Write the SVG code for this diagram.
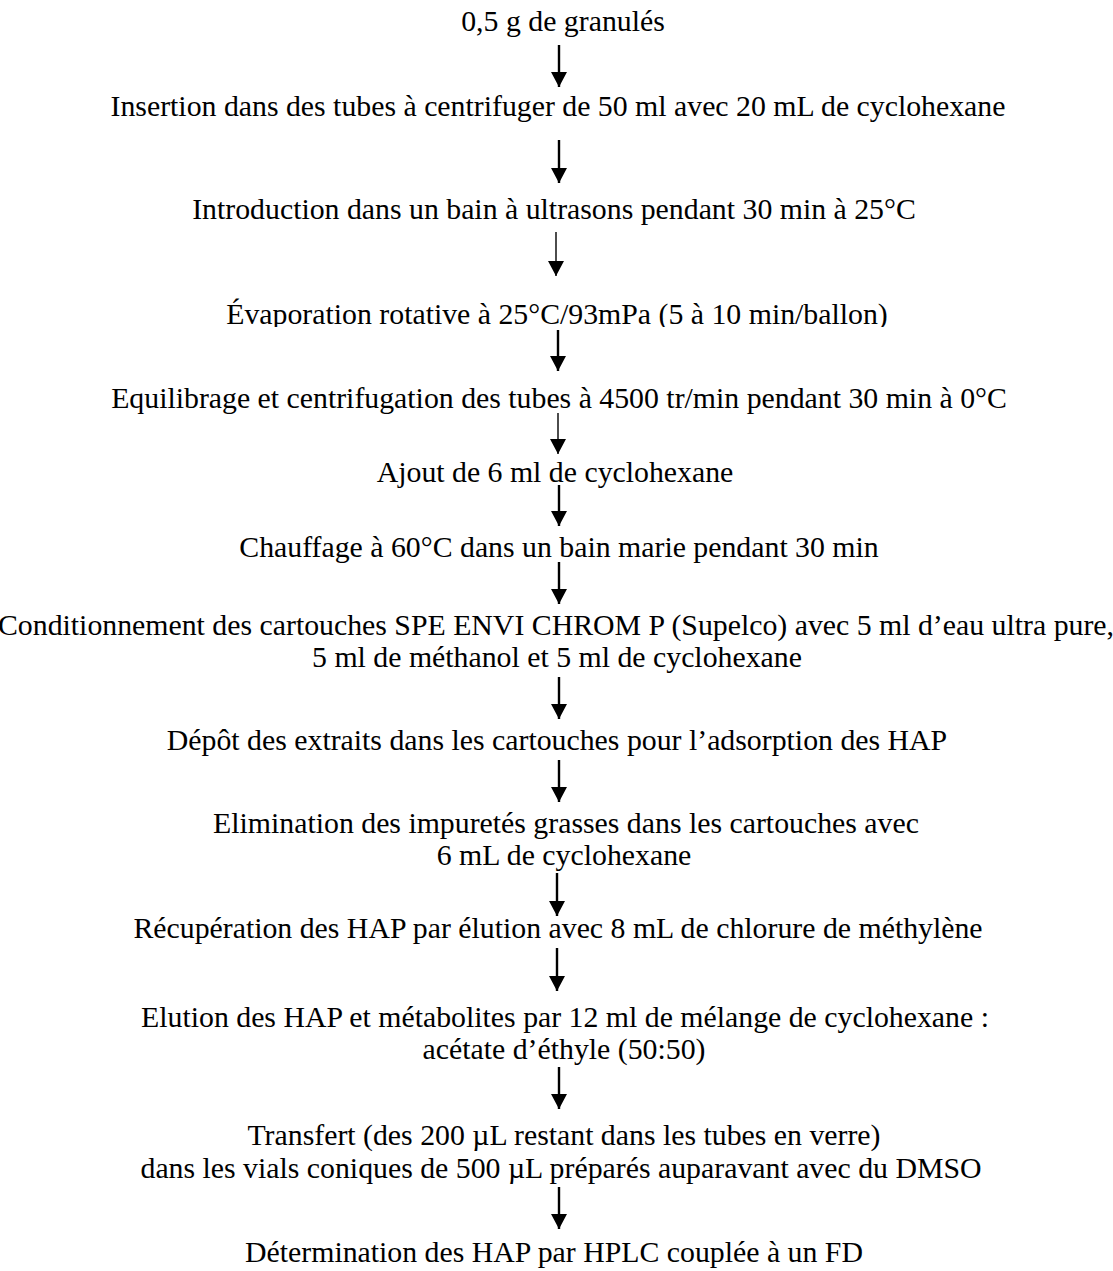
<svg xmlns="http://www.w3.org/2000/svg" width="1113" height="1271" viewBox="0 0 1113 1271">
<style>
text{font-family:"Liberation Serif","Times New Roman",serif;font-size:29.8px;fill:#000;text-anchor:middle}
.a{stroke:#000;stroke-width:2.4;fill:none}
.t{stroke:#000;stroke-width:1.4;fill:none}
</style>
<defs>
<marker id="h" markerUnits="userSpaceOnUse" markerWidth="16" markerHeight="16" viewBox="0 0 16 16" refX="15" refY="8" orient="auto"><path d="M0,0 L15,8 L0,16 Z" fill="#000"/></marker>
<clipPath id="c4"><rect x="0" y="290" width="1113" height="37"/></clipPath>
</defs>
<rect width="1113" height="1271" fill="#fff"/>
<g id="n1"><text x="563" y="31">0,5 g de granulés</text></g>
<g id="n2"><text x="558" y="116">Insertion dans des tubes à centrifuger de 50 ml avec 20 mL de cyclohexane</text></g>
<g id="n3"><text x="554" y="219">Introduction dans un bain à ultrasons pendant 30 min à 25°C</text></g>
<g id="n4" clip-path="url(#c4)"><text x="557" y="324">Évaporation rotative à 25°C/93mPa (5 à 10 min/ballon)</text></g>
<g id="n5"><text x="559" y="408">Equilibrage et centrifugation des tubes à 4500 tr/min pendant 30 min à 0°C</text></g>
<g id="n6"><text x="555" y="482">Ajout de 6 ml de cyclohexane</text></g>
<g id="n7"><text x="559" y="557">Chauffage à 60°C dans un bain marie pendant 30 min</text></g>
<g id="n8"><text x="556" y="635">Conditionnement des cartouches SPE ENVI CHROM P (Supelco) avec 5 ml d’eau ultra pure,</text><text x="557" y="667">5 ml de méthanol et 5 ml de cyclohexane</text></g>
<g id="n9"><text x="557" y="750">Dépôt des extraits dans les cartouches pour l’adsorption des HAP</text></g>
<g id="n10"><text x="566" y="833">Elimination des impuretés grasses dans les cartouches avec</text><text x="564" y="865">6 mL de cyclohexane</text></g>
<g id="n11"><text x="558" y="938">Récupération des HAP par élution avec 8 mL de chlorure de méthylène</text></g>
<g id="n12"><text x="565" y="1027">Elution des HAP et métabolites par 12 ml de mélange de cyclohexane :</text><text x="564" y="1059">acétate d’éthyle (50:50)</text></g>
<g id="n13"><text x="564" y="1145">Transfert (des 200 µL restant dans les tubes en verre)</text><text x="561" y="1178">dans les vials coniques de 500 µL préparés auparavant avec du DMSO</text></g>
<g id="n14"><text x="554" y="1262">Détermination des HAP par HPLC couplée à un FD</text></g>
<g id="connectors">
<path class="a" d="M559,45V87" marker-end="url(#h)"/>
<path class="a" d="M559,140V183" marker-end="url(#h)"/>
<path class="t" d="M556,232V276" marker-end="url(#h)"/>
<path class="a" d="M558,330V371" marker-end="url(#h)"/>
<path class="t" d="M558,413V454" marker-end="url(#h)"/>
<path class="a" d="M559,485V526" marker-end="url(#h)"/>
<path class="a" d="M559,562V604" marker-end="url(#h)"/>
<path class="a" d="M559,677V719" marker-end="url(#h)"/>
<path class="a" d="M559,760V802" marker-end="url(#h)"/>
<path class="a" d="M557,873V916" marker-end="url(#h)"/>
<path class="a" d="M557,948V991" marker-end="url(#h)"/>
<path class="a" d="M559,1067V1109" marker-end="url(#h)"/>
<path class="a" d="M559,1187V1229" marker-end="url(#h)"/>
</g>
</svg>
